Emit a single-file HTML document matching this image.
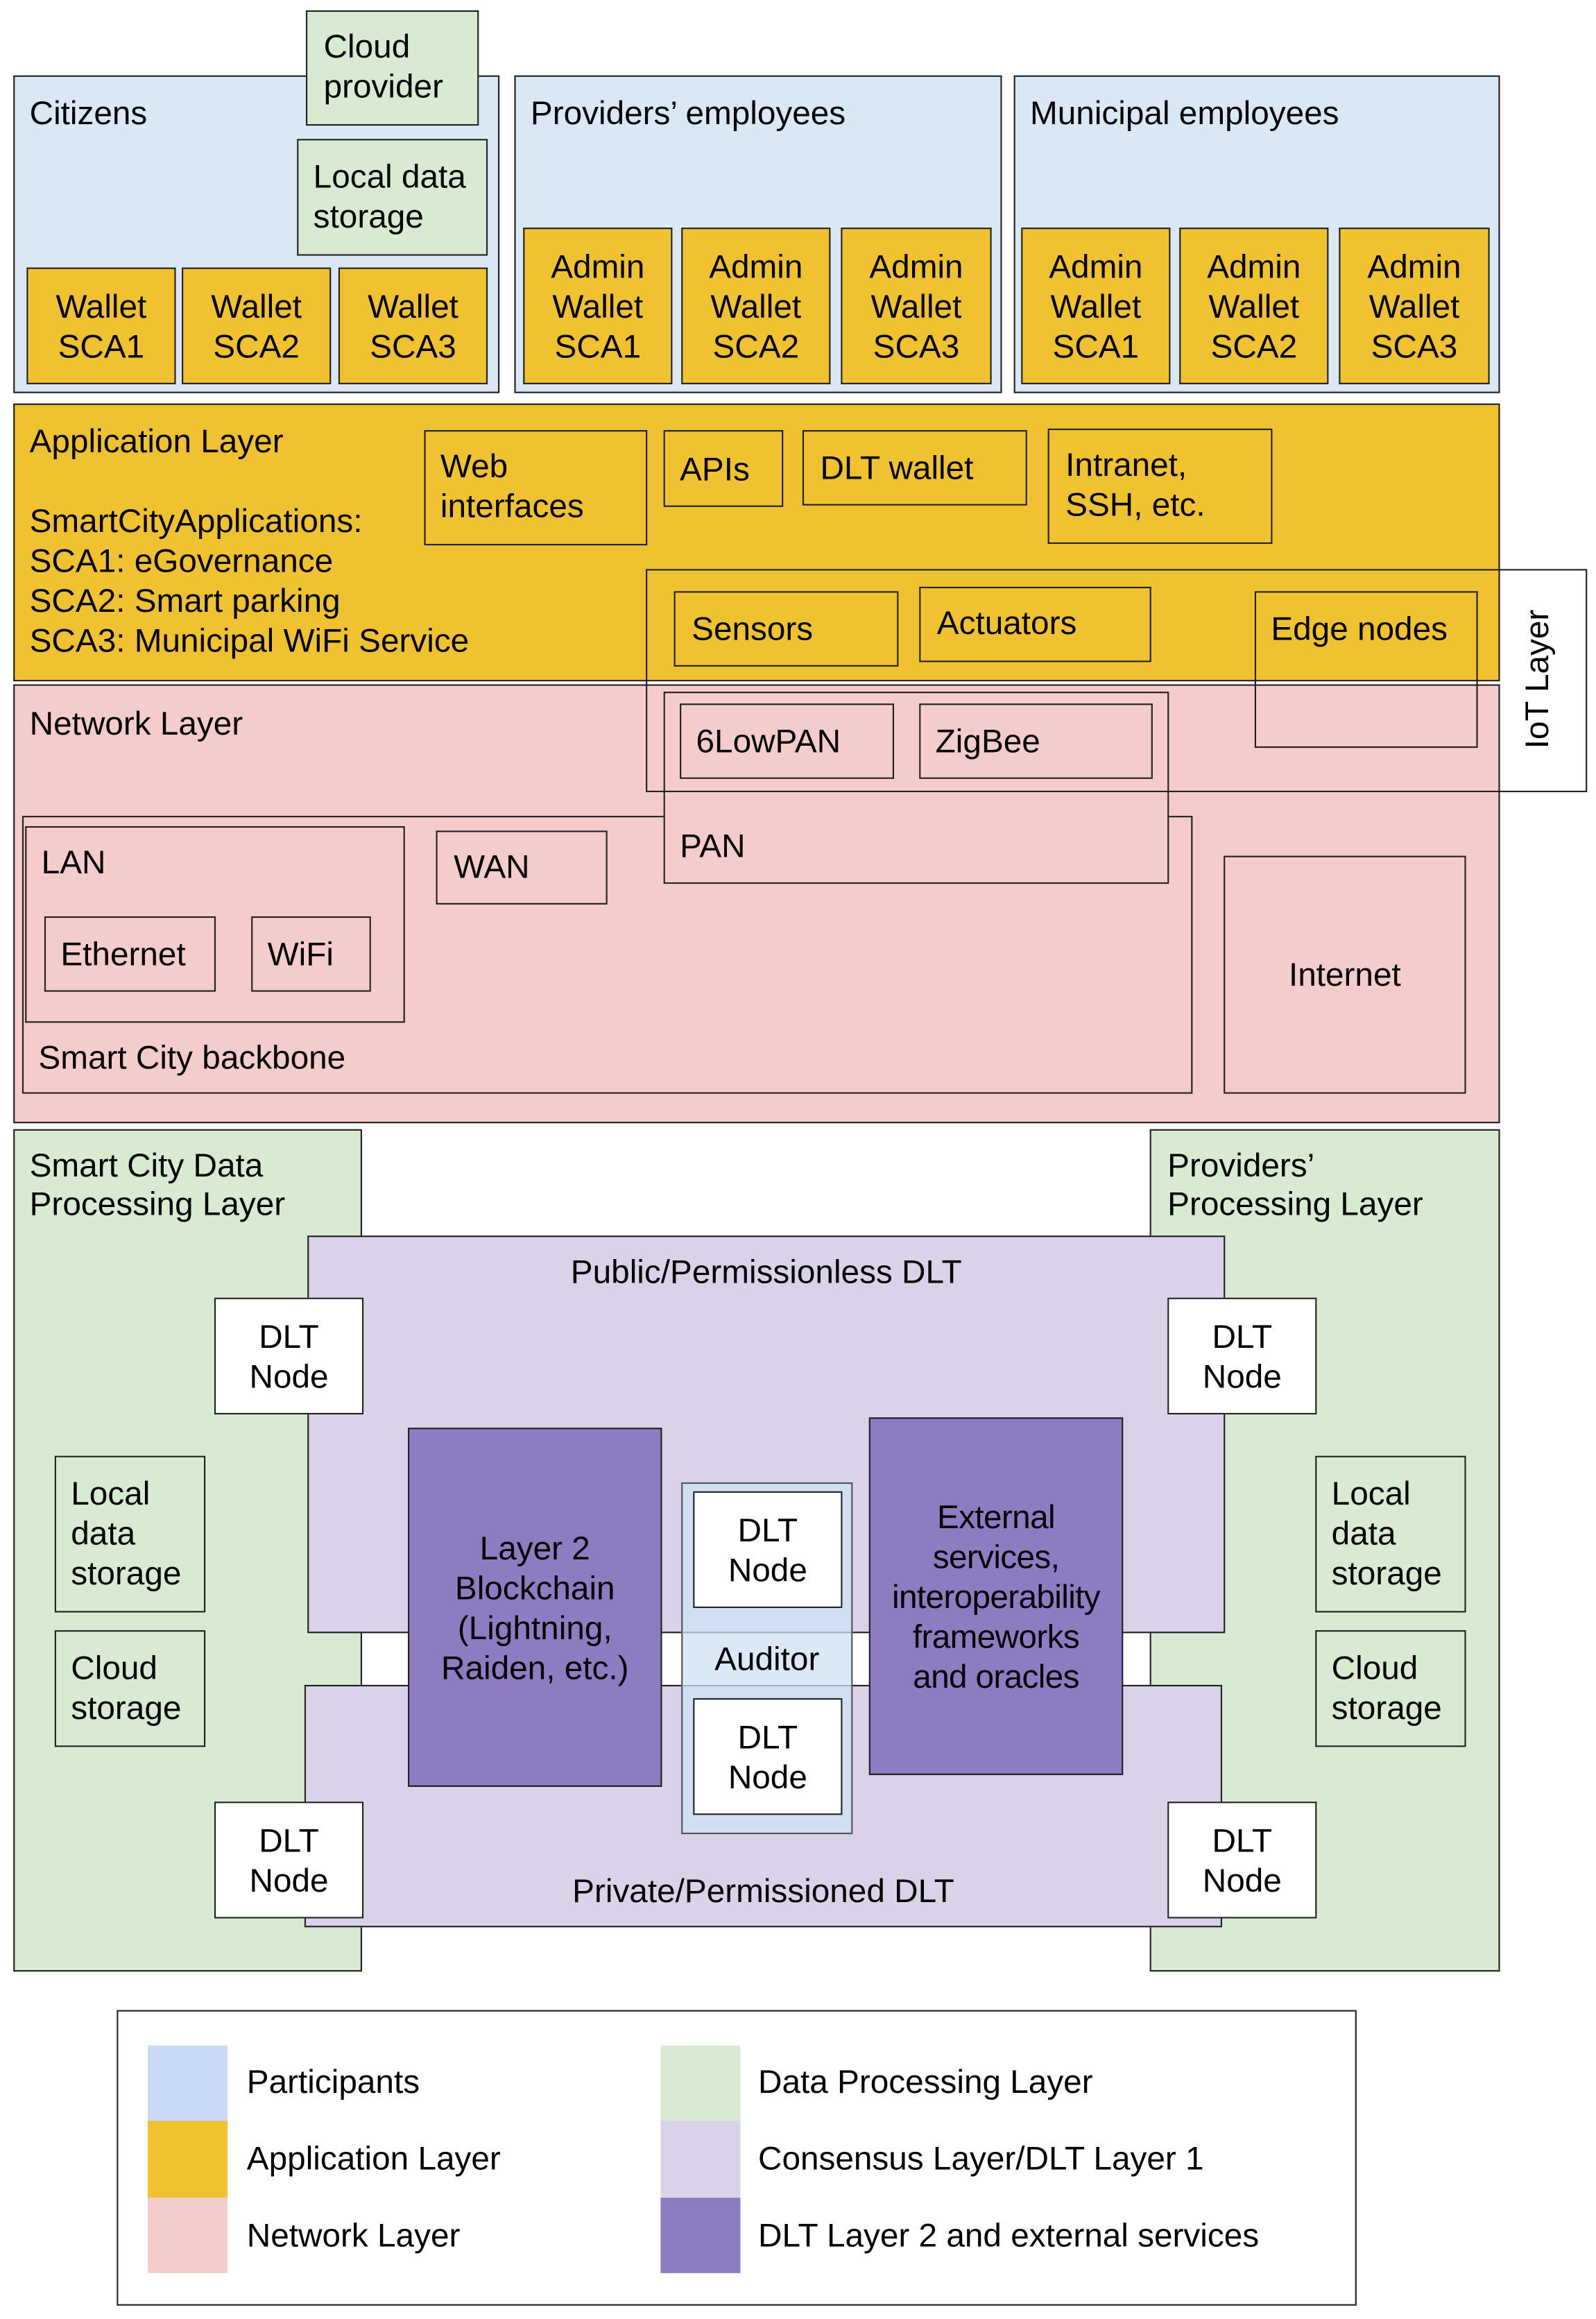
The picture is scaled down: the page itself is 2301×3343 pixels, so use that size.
<!DOCTYPE html>
<html><head><meta charset="utf-8"><style>
html,body{margin:0;padding:0;background:#fff;width:2301px;height:3342px;overflow:hidden}
#w{position:absolute;left:0;top:0;width:1080px;height:1569px;transform:scale(2.1306);transform-origin:0 0;font-family:"Liberation Sans",Arial,sans-serif;font-size:22.4px;color:#000}
.b{position:absolute;box-sizing:border-box;border:1.4px solid #222;line-height:27px}
.c{display:flex;align-items:center;justify-content:center;text-align:center}
.t{position:absolute;white-space:nowrap;line-height:27px}
.bl{background:#dae8f5}.y{background:#f0c232}.p{background:#f4cccc}.g{background:#d9ead3}.l{background:#d9d2e9}.pu{background:#8e7cc3}.wh{background:#fff}
</style></head><body><div id="w">
<!-- Participants -->
<div class="b bl" style="left:9px;top:51px;width:329px;height:215px"></div>
<div class="t" style="left:20px;top:63px">Citizens</div>
<div class="b g" style="left:207px;top:7px;width:117px;height:78px;padding:10px 0 0 11px">Cloud<br>provider</div>
<div class="b g" style="left:201px;top:94px;width:129px;height:79px;padding:11px 0 0 10px">Local data<br>storage</div>
<div class="b y c" style="left:18px;top:181px;width:101px;height:79px">Wallet<br>SCA1</div>
<div class="b y c" style="left:123px;top:181px;width:101px;height:79px">Wallet<br>SCA2</div>
<div class="b y c" style="left:229px;top:181px;width:101px;height:79px">Wallet<br>SCA3</div>

<div class="b bl" style="left:348px;top:51px;width:330px;height:215px"></div>
<div class="t" style="left:359px;top:63px">Providers’ employees</div>
<div class="b y c" style="left:354px;top:154px;width:101px;height:106px">Admin<br>Wallet<br>SCA1</div>
<div class="b y c" style="left:461px;top:154px;width:101px;height:106px">Admin<br>Wallet<br>SCA2</div>
<div class="b y c" style="left:569px;top:154px;width:102px;height:106px">Admin<br>Wallet<br>SCA3</div>

<div class="b bl" style="left:686px;top:51px;width:329px;height:215px"></div>
<div class="t" style="left:697px;top:63px">Municipal employees</div>
<div class="b y c" style="left:691px;top:154px;width:101px;height:106px">Admin<br>Wallet<br>SCA1</div>
<div class="b y c" style="left:798px;top:154px;width:101px;height:106px">Admin<br>Wallet<br>SCA2</div>
<div class="b y c" style="left:906px;top:154px;width:102px;height:106px">Admin<br>Wallet<br>SCA3</div>

<!-- Application layer -->
<div class="b y" style="left:9px;top:273px;width:1006px;height:188px"></div>
<div class="t" style="left:20px;top:285px">Application Layer</div>
<div class="t" style="left:20px;top:339px">SmartCityApplications:<br>SCA1: eGovernance<br>SCA2: Smart parking<br>SCA3: Municipal WiFi Service</div>
<div class="b y" style="left:287px;top:291px;width:151px;height:78px;padding:10px 0 0 10px">Web<br>interfaces</div>
<div class="b y" style="left:449px;top:291px;width:81px;height:52px;padding:12px 0 0 10px">APIs</div>
<div class="b y" style="left:543px;top:291px;width:152px;height:51px;padding:11px 0 0 11px">DLT wallet</div>
<div class="b y" style="left:709px;top:290px;width:152px;height:78px;padding:10px 0 0 11px">Intranet,<br>SSH, etc.</div>

<!-- Network layer -->
<div class="b p" style="left:9px;top:463px;width:1006px;height:297px"></div>
<div class="t" style="left:20px;top:476px">Network Layer</div>
<div class="b" style="left:15px;top:552px;width:792px;height:188px"></div>
<div class="t" style="left:26px;top:702px">Smart City backbone</div>
<div class="b" style="left:17px;top:559px;width:257px;height:133px"></div>
<div class="t" style="left:28px;top:570px">LAN</div>
<div class="b" style="left:30px;top:620px;width:116px;height:51px;padding:11px 0 0 10px">Ethernet</div>
<div class="b" style="left:170px;top:620px;width:81px;height:51px;padding:11px 0 0 10px">WiFi</div>
<div class="b" style="left:295px;top:562px;width:116px;height:50px;padding:10px 0 0 11px">WAN</div>
<div class="b c" style="left:828px;top:579px;width:164px;height:161px">Internet</div>
<div class="b p" style="left:449px;top:468px;width:342px;height:130px"></div>
<div class="t" style="left:460px;top:559px">PAN</div>
<div class="b" style="left:460px;top:476px;width:145px;height:51px;padding:11px 0 0 10px">6LowPAN</div>
<div class="b" style="left:622px;top:476px;width:158px;height:51px;padding:11px 0 0 10px">ZigBee</div>

<!-- IoT -->
<div class="b" style="left:437px;top:385px;width:637px;height:151px;border-width:1px"></div>
<div class="b" style="left:456px;top:400px;width:152px;height:51px;padding:11px 0 0 11px">Sensors</div>
<div class="b" style="left:622px;top:397px;width:157px;height:51px;padding:10px 0 0 11px">Actuators</div>
<div class="b" style="left:849px;top:400px;width:151px;height:106px;padding:11px 0 0 10px">Edge nodes</div>
<div class="t" style="left:990px;top:446px;width:100px;text-align:center;transform:rotate(-90deg)">IoT Layer</div>

<!-- Data processing -->
<div class="b g" style="left:9px;top:764px;width:236px;height:570px"></div>
<div class="t" style="left:20px;top:776px;line-height:26px">Smart City Data<br>Processing Layer</div>
<div class="b g" style="left:778px;top:764px;width:237px;height:570px"></div>
<div class="t" style="left:790px;top:776px;line-height:26px">Providers’<br>Processing Layer</div>
<div class="b l" style="left:208px;top:836px;width:621px;height:269px"></div>
<div class="t" style="left:208px;top:847px;width:621px;text-align:center">Public/Permissionless DLT</div>
<div class="b l" style="left:206px;top:1140px;width:621px;height:164px"></div>
<div class="t" style="left:206px;top:1266px;width:621px;text-align:center">Private/Permissioned DLT</div>
<div class="b wh c" style="left:145px;top:878px;width:101px;height:79px">DLT<br>Node</div>
<div class="b wh c" style="left:790px;top:878px;width:101px;height:79px">DLT<br>Node</div>
<div class="b wh c" style="left:145px;top:1219px;width:101px;height:79px">DLT<br>Node</div>
<div class="b wh c" style="left:790px;top:1219px;width:101px;height:79px">DLT<br>Node</div>
<div class="b g" style="left:37px;top:985px;width:102px;height:106px;padding:11px 0 0 10px">Local<br>data<br>storage</div>
<div class="b g" style="left:37px;top:1103px;width:102px;height:79px;padding:11px 0 0 10px">Cloud<br>storage</div>
<div class="b g" style="left:890px;top:985px;width:102px;height:106px;padding:11px 0 0 10px">Local<br>data<br>storage</div>
<div class="b g" style="left:890px;top:1103px;width:102px;height:79px;padding:11px 0 0 10px">Cloud<br>storage</div>
<div class="b pu c" style="left:276px;top:966px;width:172px;height:243px">Layer 2<br>Blockchain<br>(Lightning,<br>Raiden, etc.)</div>
<div class="b pu c" style="left:588px;top:959px;width:172px;height:242px;letter-spacing:-0.3px">External<br>services,<br>interoperability<br>frameworks<br>and oracles</div>
<div class="b" style="left:461px;top:1003px;width:116px;height:238px;background:rgba(207,226,243,0.75);border-color:#555"></div>
<div class="t" style="left:461px;top:1109px;width:116px;text-align:center">Auditor</div>
<div class="b wh c" style="left:469px;top:1009px;width:101px;height:79px">DLT<br>Node</div>
<div class="b wh c" style="left:469px;top:1149px;width:101px;height:79px">DLT<br>Node</div>

<!-- Legend -->
<div class="b" style="left:79px;top:1360px;width:839px;height:200px"></div>
<div style="position:absolute;left:100px;top:1384px;width:54px;height:51px;background:#c9daf8"></div>
<div style="position:absolute;left:100px;top:1435px;width:54px;height:52px;background:#f0c232"></div>
<div style="position:absolute;left:100px;top:1487px;width:54px;height:51px;background:#f4cccc"></div>
<div style="position:absolute;left:447px;top:1384px;width:54px;height:51px;background:#d9ead3"></div>
<div style="position:absolute;left:447px;top:1435px;width:54px;height:52px;background:#d9d2e9"></div>
<div style="position:absolute;left:447px;top:1487px;width:54px;height:51px;background:#8e7cc3"></div>
<div class="t" style="left:167px;top:1395px">Participants</div>
<div class="t" style="left:167px;top:1447px">Application Layer</div>
<div class="t" style="left:167px;top:1499px">Network Layer</div>
<div class="t" style="left:513px;top:1395px">Data Processing Layer</div>
<div class="t" style="left:513px;top:1447px">Consensus Layer/DLT Layer 1</div>
<div class="t" style="left:513px;top:1499px">DLT Layer 2 and external services</div>
</div></body></html>
